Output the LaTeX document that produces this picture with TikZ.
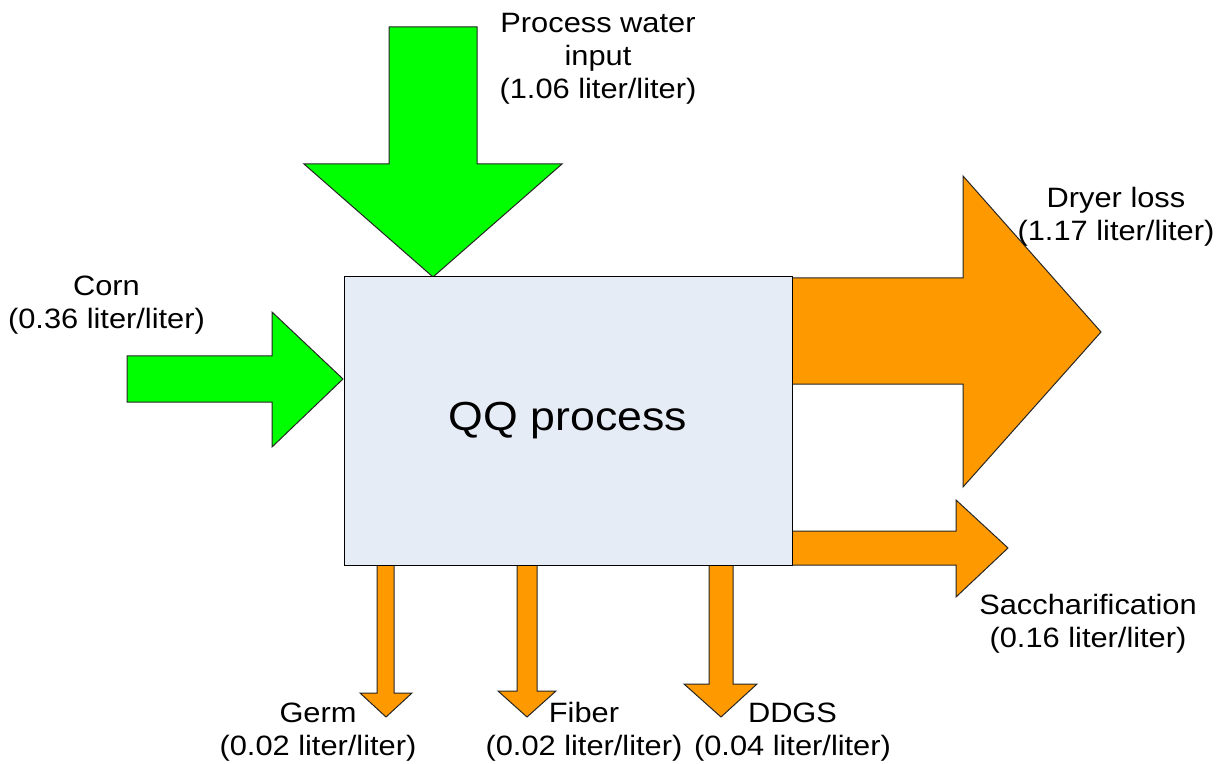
\documentclass[tikz,border=0pt]{standalone}
\usepackage{fontspec}
\setmainfont[FakeStretch=1.1]{Liberation Sans}
\usepackage{tikz}
\usetikzlibrary{positioning}

\definecolor{flowgreen}{RGB}{0,255,0}
\definecolor{floworange}{RGB}{255,153,0}
\definecolor{boxfill}{RGB}{230,236,246}

\tikzset{
  inflow/.style={fill=flowgreen, draw=black!85, line width=0.5pt, line join=miter},
  outflow/.style={fill=floworange, draw=black!85, line width=0.5pt, line join=miter},
  lbl/.style={align=center, inner sep=0pt, font=\fontsize{14}{16.5}\selectfont},
}

\begin{document}
\begin{tikzpicture}[x=0.5pt, y=-0.5pt]
  \useasboundingbox (0,0) rectangle (1225,764);
  % inputs
  \draw[inflow] (389,27) -- (477,27) -- (477,164) -- (562,164) -- (433,277)
                -- (304,164) -- (389,164) -- cycle;
  \draw[inflow] (127,356) -- (272,356) -- (272,312) -- (343,379) -- (272,447)
                -- (272,402) -- (127,402) -- cycle;
  % outputs
  \draw[outflow] (792,278) -- (963,278) -- (963,176) -- (1101,332) -- (963,487)
                 -- (963,384) -- (792,384) -- cycle;
  \draw[outflow] (792,531) -- (956,531) -- (956,500) -- (1008,548) -- (956,597)
                 -- (956,565) -- (792,565) -- cycle;
  \draw[outflow] (377,565) -- (377,693) -- (360,693) -- (386,717) -- (412,693)
                 -- (394,693) -- (394,565) -- cycle;
  \draw[outflow] (517,565) -- (517,691) -- (498,691) -- (527,717) -- (556,691)
                 -- (537,691) -- (537,565) -- cycle;
  \draw[outflow] (709,565) -- (709,684) -- (684,684) -- (721,717) -- (757,684)
                 -- (733,684) -- (733,565) -- cycle;
  % process box
  \node[draw=black, fill=boxfill, line width=0.5pt, minimum width=224pt, minimum height=144pt,
        inner sep=0pt, font=\fontsize{20.3}{24}\selectfont] (qq) at (568,421) {QQ process};
  % labels
  \node[lbl] (water) at (598,59) {Process water\\input\\(1.06 liter/liter)};
  \node[lbl] (corn) at (106.5,305) {Corn\\(0.36 liter/liter)};
  \node[lbl] (dryer) at (1116,217) {Dryer loss\\(1.17 liter/liter)};
  \node[lbl] (sacch) at (1088,624) {Saccharification\\(0.16 liter/liter)};
  \node[lbl] (germ) at (318,732) {Germ\\(0.02 liter/liter)};
  \node[lbl] (fiber) at (584,732) {Fiber\\(0.02 liter/liter)};
  \node[lbl] (ddgs) at (792.5,732) {DDGS\\(0.04 liter/liter)};
\end{tikzpicture}
\end{document}
